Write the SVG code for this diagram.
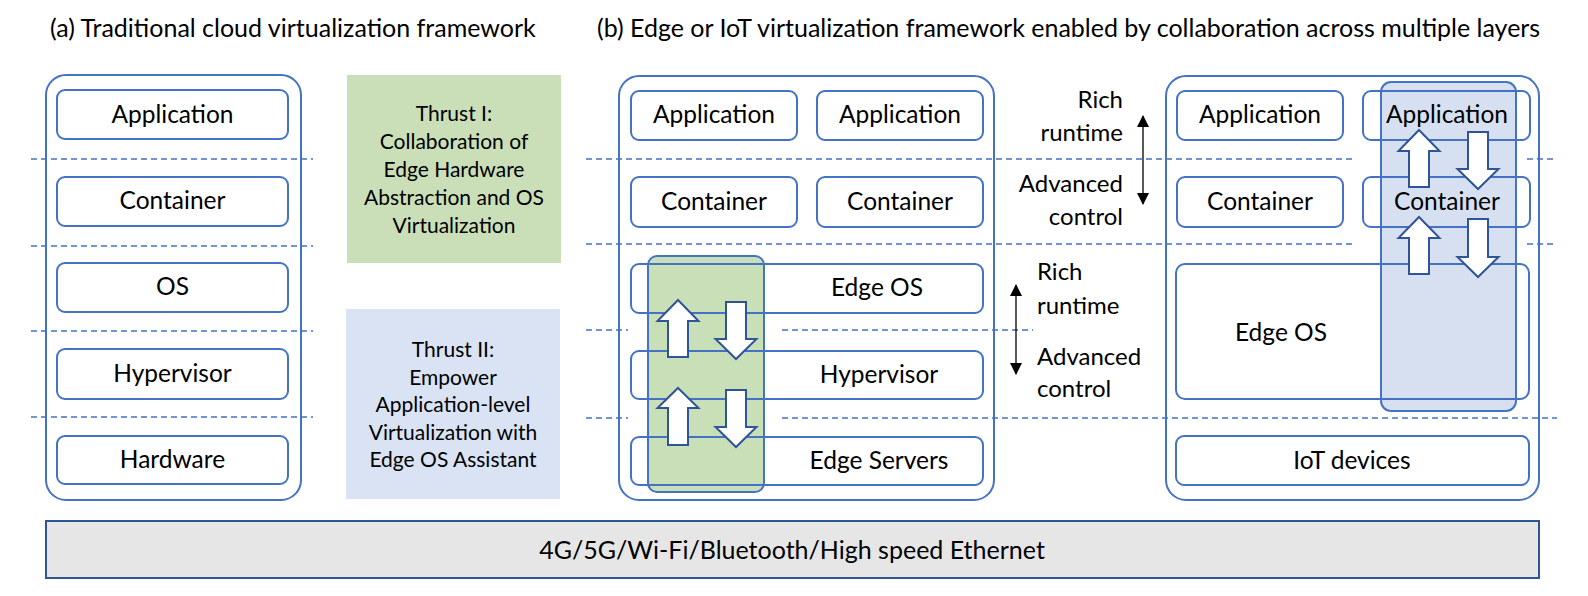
<svg xmlns="http://www.w3.org/2000/svg" width="1588" height="596" viewBox="0 0 1588 596">
<defs>
<style>
text{font-family:Lato,"Open Sans","Liberation Sans",sans-serif;fill:#000;}
.t{font-size:25px;}
.lb{font-size:24.5px;text-anchor:middle;}
.th{font-size:21px;text-anchor:middle;}
.sd{font-size:24px;}
.panel{fill:none;stroke:#4472c4;stroke-width:2;}
.box{fill:none;stroke:#4472c4;stroke-width:2;}
.dash{stroke:#4472c4;stroke-width:1.6;stroke-dasharray:6 4;fill:none;}
.barr{fill:#fff;stroke:#2f5597;stroke-width:2;stroke-linejoin:miter;}
.dbl{stroke:#000;stroke-width:1.3;fill:none;marker-start:url(#ah);marker-end:url(#ah);}
</style>
<marker id="ah" viewBox="0 0 12 12" refX="11" refY="6" markerWidth="12" markerHeight="12" markerUnits="userSpaceOnUse" orient="auto-start-reverse">
<path d="M0,0 L12,6 L0,12 Z" fill="#000"/>
</marker>
</defs>
<rect width="1588" height="596" fill="#fff"/>

<text class="t" x="50" y="37">(a) Traditional cloud virtualization framework</text>
<text class="t" x="597" y="37">(b) Edge or IoT virtualization framework enabled by collaboration across multiple layers</text>

<g id="panel-a">
<rect class="panel" x="46" y="75" width="255" height="425" rx="20"/>
</g>
<g id="panel-b1">
<rect class="panel" x="619" y="76" width="375" height="424" rx="20"/>
</g>
<g id="panel-b2">
<rect class="panel" x="1166" y="76" width="373" height="424" rx="20"/>
</g>

<g id="layer-lines">
<line class="dash" x1="31" y1="159" x2="313" y2="159"/>
<line class="dash" x1="31" y1="246" x2="313" y2="246"/>
<line class="dash" x1="31" y1="331" x2="313" y2="331"/>
<line class="dash" x1="31" y1="417" x2="313" y2="417"/>
<line class="dash" x1="586" y1="159" x2="1355" y2="159"/>
<line class="dash" x1="1527" y1="159" x2="1557" y2="159"/>
<line class="dash" x1="586" y1="244" x2="1355" y2="244"/>
<line class="dash" x1="1527" y1="244" x2="1557" y2="244"/>
<line class="dash" x1="586" y1="330" x2="628" y2="330"/>
<line class="dash" x1="782" y1="330" x2="1033" y2="330"/>
<line class="dash" x1="586" y1="418" x2="628" y2="418"/>
<line class="dash" x1="782" y1="418" x2="1557" y2="418"/>
</g>

<g id="thrust-1">
<rect x="347" y="75" width="214" height="188" fill="#cadfb8"/>
<text class="th"><tspan x="454" y="121">Thrust I:</tspan><tspan x="454" y="149">Collaboration of</tspan><tspan x="454" y="177">Edge Hardware</tspan><tspan x="454" y="205">Abstraction and OS</tspan><tspan x="454" y="233">Virtualization</tspan></text>
</g>
<g id="thrust-2">
<rect x="346" y="309" width="214" height="190" fill="#dae3f3"/>
<text class="th"><tspan x="453" y="357">Thrust II:</tspan><tspan x="453" y="384.5">Empower</tspan><tspan x="453" y="412">Application-level</tspan><tspan x="453" y="439.5">Virtualization with</tspan><tspan x="453" y="467">Edge OS Assistant</tspan></text>
</g>

<g id="overlay-green">
<rect x="648" y="256" width="116" height="236" rx="9" fill="#c9dfb8" stroke="#4472c4" stroke-width="2"/>
</g>
<g id="overlay-blue">
<rect x="1381" y="82" width="135" height="329" rx="10" fill="#d6e0f1" stroke="#4472c4" stroke-width="2"/>
</g>

<g id="a-application"><rect class="box" x="57" y="90" width="231" height="49" rx="8"/><text class="lb" x="172.5" y="123">Application</text></g>
<g id="a-container"><rect class="box" x="57" y="177" width="231" height="49" rx="8"/><text class="lb" x="172.5" y="209">Container</text></g>
<g id="a-os"><rect class="box" x="57" y="263" width="231" height="49" rx="8"/><text class="lb" x="172.5" y="295">OS</text></g>
<g id="a-hypervisor"><rect class="box" x="57" y="349" width="231" height="50" rx="8"/><text class="lb" x="172.5" y="381.5">Hypervisor</text></g>
<g id="a-hardware"><rect class="box" x="57" y="436" width="231" height="48" rx="8"/><text class="lb" x="172.5" y="467.5">Hardware</text></g>

<g id="b1-application-1"><rect class="box" x="631" y="91" width="166" height="49" rx="8"/><text class="lb" x="714" y="123">Application</text></g>
<g id="b1-application-2"><rect class="box" x="817" y="91" width="166" height="49" rx="8"/><text class="lb" x="900" y="123">Application</text></g>
<g id="b1-container-1"><rect class="box" x="631" y="177" width="166" height="50" rx="8"/><text class="lb" x="714" y="209.5">Container</text></g>
<g id="b1-container-2"><rect class="box" x="817" y="177" width="166" height="50" rx="8"/><text class="lb" x="900" y="209.5">Container</text></g>
<g id="b1-edge-os"><rect class="box" x="631" y="264" width="352" height="49" rx="8"/><text class="lb" x="877" y="296">Edge OS</text></g>
<g id="b1-hypervisor"><rect class="box" x="631" y="351" width="352" height="48" rx="8"/><text class="lb" x="879" y="383">Hypervisor</text></g>
<g id="b1-edge-servers"><rect class="box" x="631" y="437" width="352" height="48" rx="8"/><text class="lb" x="879" y="469">Edge Servers</text></g>

<g id="b2-application-1"><rect class="box" x="1177" y="91" width="166" height="49" rx="8"/><text class="lb" x="1260" y="123">Application</text></g>
<g id="b2-application-2"><rect class="box" x="1363" y="91" width="167" height="49" rx="8"/><text class="lb" x="1447" y="123">Application</text></g>
<g id="b2-container-1"><rect class="box" x="1177" y="177" width="166" height="50" rx="8"/><text class="lb" x="1260" y="209.5">Container</text></g>
<g id="b2-container-2"><rect class="box" x="1363" y="177" width="167" height="50" rx="8"/><text class="lb" x="1447" y="209.5">Container</text></g>
<g id="b2-edge-os"><rect class="box" x="1176" y="264" width="353" height="135" rx="9"/><text class="lb" x="1281" y="341">Edge OS</text></g>
<g id="b2-iot"><rect class="box" x="1176" y="436" width="353" height="49" rx="8"/><text class="lb" x="1352" y="469">IoT devices</text></g>

<g id="labels-side">
<text class="sd" text-anchor="end"><tspan x="1123" y="108">Rich</tspan><tspan x="1123" y="141">runtime</tspan><tspan x="1123" y="192">Advanced</tspan><tspan x="1123" y="225">control</tspan></text>
<text class="sd"><tspan x="1037" y="280">Rich</tspan><tspan x="1037" y="314">runtime</tspan><tspan x="1037" y="365">Advanced</tspan><tspan x="1037" y="397">control</tspan></text>
</g>

<g id="connectors">
<line class="dbl" x1="1143" y1="116" x2="1143" y2="204"/>
<line class="dbl" x1="1016" y1="285" x2="1016" y2="374"/>
<polygon class="barr" points="678,300 698.5,321 688,321 688,357 668,357 668,321 657.5,321"/>
<polygon class="barr" points="726,302 746,302 746,339 756.5,339 736,359 715.5,339 726,339"/>
<polygon class="barr" points="678,388 698.5,408 688,408 688,445 668,445 668,408 657.5,408"/>
<polygon class="barr" points="726,390 746,390 746,427 756.5,427 736,447 715.5,427 726,427"/>
<polygon class="barr" points="1419,130 1439.5,151 1429,151 1429,187 1409,187 1409,151 1398.5,151"/>
<polygon class="barr" points="1468,132 1488,132 1488,169 1498.5,169 1478,189 1457.5,169 1468,169"/>
<polygon class="barr" points="1419,217 1439.5,238 1429,238 1429,274 1409,274 1409,238 1398.5,238"/>
<polygon class="barr" points="1468,219 1488,219 1488,257 1498.5,257 1478,277 1457.5,257 1468,257"/>
</g>

<g id="network-bar">
<rect x="46" y="521" width="1493" height="57" fill="#e7e6e6" stroke="#2f5597" stroke-width="2"/>
<text x="792" y="559" font-size="25" text-anchor="middle">4G/5G/Wi-Fi/Bluetooth/High speed Ethernet</text>
</g>
</svg>
